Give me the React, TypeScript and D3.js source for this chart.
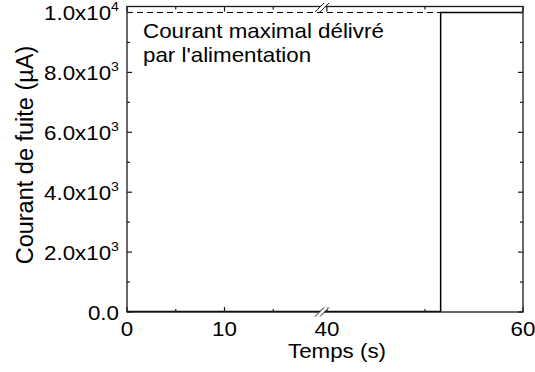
import React from "react";
import * as d3 from "d3";

// ---- data ----
const timeS = [0, 51.6, 51.6, 60];
const leakCurrentUA = [20, 20, 10000, 10000];
const maxSupplyCurrentUA = 10000;
const xTickValues = [0, 10, 40, 60];
const xMinorTickValues = [5, 15, 50];
const yTickValues = [0, 2000, 4000, 6000, 8000, 10000];
const yMinorTickValues = [1000, 3000, 5000, 7000, 9000];
const annotationLines = ["Courant maximal délivré", "par l'alimentation"];
const xTitle = "Temps (s)";
const yTitle = "Courant de fuite (µA)";
const breakStart = 20;
const breakEnd = 39.5;

const W = 535;
const H = 372;
const L = 127;
const R = 523;
const T = 6.5;
const B = 312;
const FONT = "'Liberation Sans', Arial, Helvetica, sans-serif";
const FS = 20.5;
const SX = 1.09;

function fmtY(v: number) {
  if (v === 0) return { m: "0.0", e: "" };
  const e = Math.floor(Math.log10(v));
  const m = v / Math.pow(10, e);
  return { m: m.toFixed(1) + "x10", e: String(e) };
}

export default function App() {
  const x = d3
    .scaleLinear()
    .domain([0, breakStart, breakEnd, 60])
    .range([L, L + (breakStart - 0) * 9.75, L + breakStart * 9.75, R]);
  const y = d3.scaleLinear().domain([0, 10200]).range([B, T]);

  const line = d3
    .line<number>()
    .x((_, i) => x(timeS[i]))
    .y((d) => y(d));

  const bx = x(breakStart);
  const stroke = "#1a1a1a";

  const breakMark = (cy: number, key: string) => {
    const dx = 4.5;
    const dy = 4.5;
    const gap = 4;
    const x1 = bx - gap / 2 - 0.5;
    const x2 = bx + gap / 2 + 0.5;
    return (
      <g key={key}>
        <polygon
          points={`${x1 - dx},${cy + dy} ${x1 + dx},${cy - dy} ${x2 + dx},${cy - dy} ${x2 - dx},${cy + dy}`}
          fill="white"
        />
        <line x1={x1 - dx} y1={cy + dy} x2={x1 + dx} y2={cy - dy} stroke={stroke} strokeWidth={1} />
        <line x1={x2 - dx} y1={cy + dy} x2={x2 + dx} y2={cy - dy} stroke={stroke} strokeWidth={1} />
      </g>
    );
  };

  return (
    <svg width={W} height={H} style={{ display: "block", position: "absolute", left: 0, top: 0 }}>
      <rect width={W} height={H} fill="white" />
      {/* dashed max current line */}
      <line
        x1={L}
        x2={R}
        y1={y(maxSupplyCurrentUA)}
        y2={y(maxSupplyCurrentUA)}
        stroke="#000"
        strokeWidth={1.2}
        strokeDasharray="6,4"
      />
      {/* data */}
      <path d={line(leakCurrentUA) || ""} fill="none" stroke="#000" strokeWidth={1.5} />
      {/* frame */}
      <rect x={L} y={T} width={R - L} height={B - T} fill="none" stroke={stroke} strokeWidth={1.3} />
      {/* x ticks */}
      {xTickValues.map((v) => (
        <g key={"xt" + v}>
          <line x1={x(v)} x2={x(v)} y1={B} y2={B - 5} stroke={stroke} strokeWidth={1.2} />
          <line x1={x(v)} x2={x(v)} y1={T} y2={T + 5} stroke={stroke} strokeWidth={1.2} />
          <g transform={`translate(${x(v)},${B + 24}) scale(${SX},1)`}>
            <text textAnchor="middle" fontFamily={FONT} fontSize={FS} fill="#000">
              {v}
            </text>
          </g>
        </g>
      ))}
      {xMinorTickValues.map((v) => (
        <g key={"xm" + v}>
          <line x1={x(v)} x2={x(v)} y1={B} y2={B - 3} stroke={stroke} strokeWidth={1.2} />
          <line x1={x(v)} x2={x(v)} y1={T} y2={T + 3} stroke={stroke} strokeWidth={1.2} />
        </g>
      ))}
      {/* y ticks */}
      {yTickValues.map((v) => {
        const f = fmtY(v);
        return (
          <g key={"yt" + v}>
            <line x1={L} x2={L + 5} y1={y(v)} y2={y(v)} stroke={stroke} strokeWidth={1.2} />
            <line x1={R} x2={R - 5} y1={y(v)} y2={y(v)} stroke={stroke} strokeWidth={1.2} />
            <g transform={`translate(${L - 8},${y(v) + 8}) scale(${SX},1)`}>
              <text textAnchor="end" fontFamily={FONT} fontSize={FS} fill="#000">
                <tspan>{f.m}</tspan>
                {f.e && (
                  <tspan fontSize={13} dy={-9}>
                    {f.e}
                  </tspan>
                )}
              </text>
            </g>
          </g>
        );
      })}
      {yMinorTickValues.map((v) => (
        <g key={"ym" + v}>
          <line x1={L} x2={L + 3} y1={y(v)} y2={y(v)} stroke={stroke} strokeWidth={1.2} />
          <line x1={R} x2={R - 3} y1={y(v)} y2={y(v)} stroke={stroke} strokeWidth={1.2} />
        </g>
      ))}
      {breakMark(B, "bb")}
      {breakMark(T + 1, "bt")}
      {/* annotation */}
      {annotationLines.map((s, i) => (
        <g key={"a" + i} transform={`translate(143,${37.5 + i * 24.5}) scale(${SX},1)`}>
          <text fontFamily={FONT} fontSize={FS} fill="#000">
            {s}
          </text>
        </g>
      ))}
      {/* titles */}
      <g transform={`translate(337,357.5) scale(${SX},1)`}>
        <text textAnchor="middle" fontFamily={FONT} fontSize={FS} fill="#000">
          {xTitle}
        </text>
      </g>
      <text
        transform={`translate(33,155) rotate(-90)`}
        textAnchor="middle"
        fontFamily={FONT}
        fontSize={23.5}
        fill="#000"
      >
        {yTitle}
      </text>
    </svg>
  );
}
